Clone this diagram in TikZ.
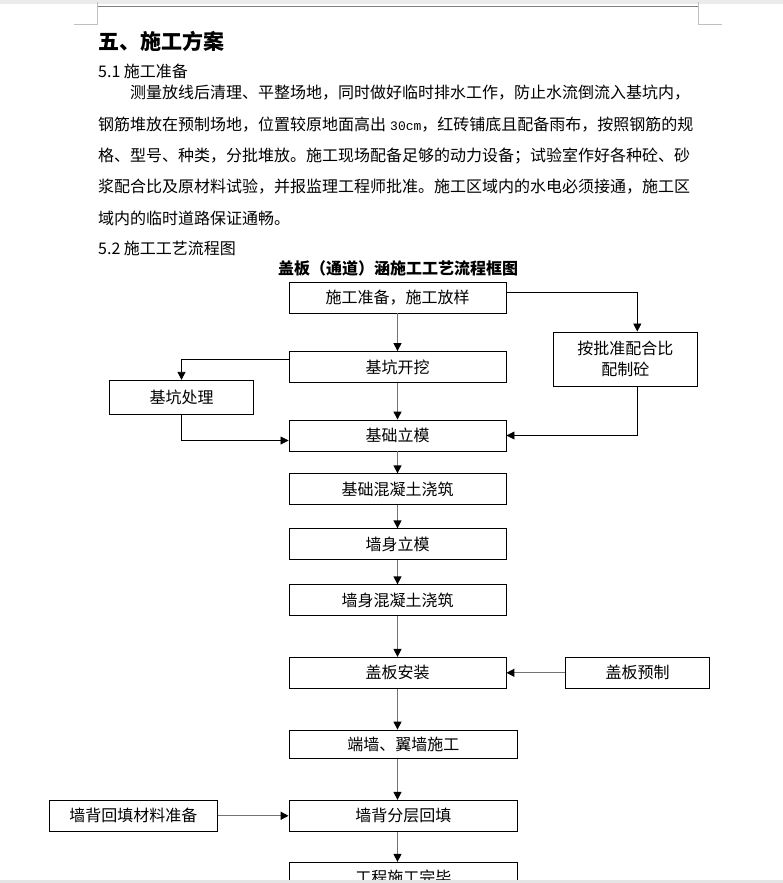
\documentclass[tikz,border=0pt]{standalone}
\usepackage{fontspec}
\setmainfont{Noto Sans CJK SC}
\newfontfamily\numfont{Liberation Mono}
\usetikzlibrary{arrows.meta}

\begin{document}
\begin{tikzpicture}[x=1pt,y=-1pt]
    \tikzstyle{stepbox}=[draw, line width=0.9pt, inner sep=0pt, align=center, font=\fontsize{16}{21.6}\selectfont]
    \tikzstyle{marr}=[line width=1.3pt, draw=black!55, -{Triangle[length=8pt,width=8pt,color=black]}]
    \tikzstyle{elarr}=[line width=0.8pt, -{Triangle[length=8pt,width=8pt]}]
    \tikzstyle{txt}=[anchor=west, inner sep=0pt, font=\fontsize{16}{16}\selectfont]

    \useasboundingbox (0,0) rectangle (783,883);

    % page edge and header marks
    \fill[black!8] (0,0) rectangle (783,4);
    \draw[black!50, line width=1pt] (97,7) -- (698,7);
    \draw[black!25, line width=1pt] (74,25) -- (97,25) -- (97,2);
    \draw[black!25, line width=1pt] (722,25) -- (698,25) -- (698,2);

    % heading and text
    \node[txt, font=\fontsize{21}{21}\selectfont\bfseries] (h5) at (98,41.7) {五、施工方案};
    \node[txt] (s51) at (98,71.7) {5.1 施工准备};
    \foreach \i/\yy/\xx/\txt in {
        1/92.3/130/{测量放线后清理、平整场地，同时做好临时排水工作，防止水流倒流入基坑内，},
        2/124.3/98/{钢筋堆放在预制场地，位置较原地面高出\hspace{4pt}{\numfont\fontsize{13}{13}\selectfont 30cm}，红砖铺底且配备雨布，按照钢筋的规},
        3/155.7/98/{格、型号、种类，分批堆放。施工现场配备足够的动力设备；试验室作好各种砼、砂},
        4/186.7/98/{浆配合比及原材料试验，并报监理工程师批准。施工区域内的水电必须接通，施工区},
        5/218.3/98/{域内的临时道路保证通畅。}} {
        \node[txt] (p\i) at (\xx,\yy) {\txt};
    }
    \node[txt] (s52) at (98,248.3) {5.2 施工工艺流程图};
    \node[inner sep=0pt, font=\fontsize{16}{16}\selectfont\bfseries] (ttl) at (398,268.3) {盖板（通道）涵施工工艺流程框图};

    % main column
    \foreach \nm/\yy/\txt in {prep/297.5/{施工准备，施工放样}, dig/367/基坑开挖, fmold/435.5/基础立模,
        fconc/489.3/基础混凝土浇筑, wmold/544.3/墙身立模, wconc/600.3/墙身混凝土浇筑, slab/672.8/盖板安装} {
        \node[stepbox, minimum width=217pt, minimum height=31pt] (\nm) at (397.5,\yy) {\txt};
    }
    \node[stepbox, minimum width=228.7pt, minimum height=28.3pt] (endw) at (403.4,744.2) {端墙、翼墙施工};
    \node[stepbox, minimum width=228.7pt, minimum height=31pt] (fill) at (403.4,815.8) {墙背分层回填};
    \begin{scope}
        \clip (0,0) rectangle (783,880);
        \node[stepbox, minimum width=228.7pt, minimum height=31pt] (done) at (403.4,877.8) {工程施工完毕};
    \end{scope}
    \fill[black!10] (0,880) rectangle (783,883);

    % side boxes
    \node[stepbox, minimum width=144.6pt, minimum height=54pt] (mix) at (625.3,359) {按批准配合比\\配制砼};
    \node[stepbox, minimum width=144pt, minimum height=34pt] (pit) at (181.5,397.3) {基坑处理};
    \node[stepbox, minimum width=144pt, minimum height=31pt] (pre) at (637.5,672.8) {盖板预制};
    \node[stepbox, minimum width=167.8pt, minimum height=31pt] (mat) at (133.3,815.8) {墙背回填材料准备};

    % arrows
    \foreach \a/\b in {prep/dig, dig/fmold, fmold/fconc, fconc/wmold, wmold/wconc, wconc/slab} {
        \draw[marr] (\a.south) -- (\b.north);
    }
    \draw[marr] (slab.south) -- (slab.south |- endw.north);
    \draw[marr] (slab.south |- endw.south) -- (slab.south |- fill.north);
    \draw[marr] (slab.south |- fill.south) -- (slab.south |- done.north);
    \draw[marr] (pre.west) -- (slab.east);
    \draw[marr] (mat.east) -- (fill.west);

    \draw[elarr] ([yshift=5pt]prep.east) -| ([xshift=12pt]mix.north);
    \draw[elarr] ([xshift=12pt]mix.south) |- (fmold.east);
    \draw[elarr] ([yshift=8pt]dig.west) -| (pit.north);
    \draw[elarr] (pit.south) |- ([yshift=-5pt]fmold.west);

\end{tikzpicture}
\end{document}
